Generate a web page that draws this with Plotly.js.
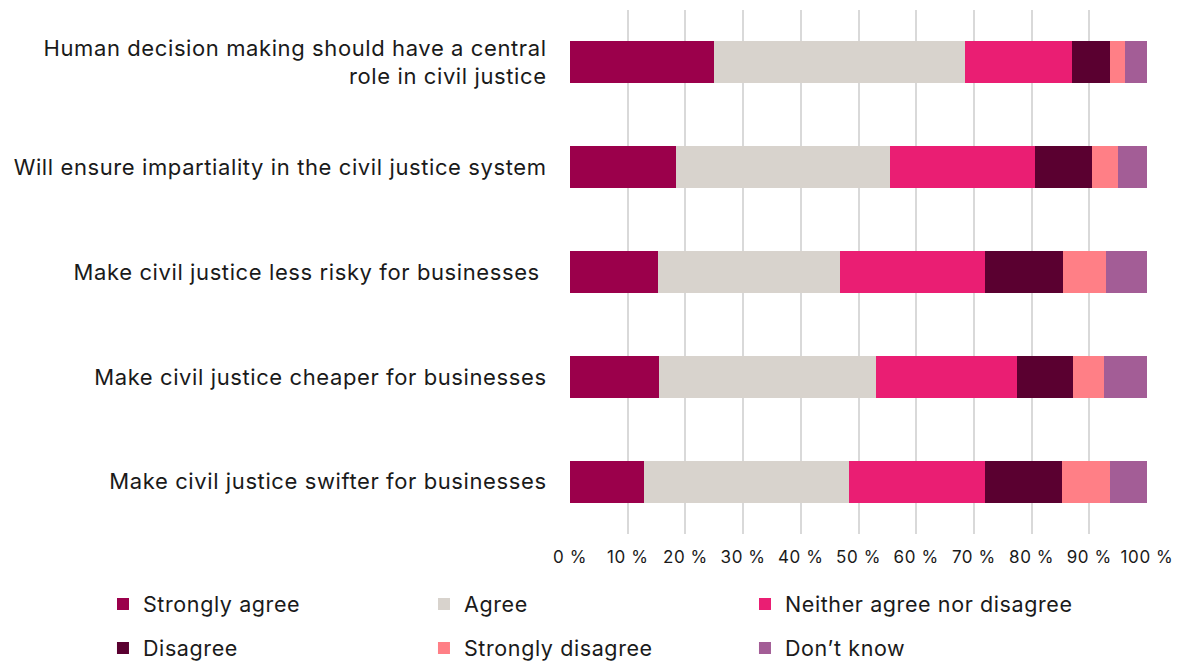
<!DOCTYPE html>
<html>
<head>
<meta charset="utf-8">
<script src="https://cdn.plot.ly/plotly-3.0.1.min.js"></script>
<style>
html,body{margin:0;padding:0;background:#fff;}
#chart{width:1181px;height:664px;}
#chart text{letter-spacing:0.6px;}
#chart .legend .scrollbox{clip-path:none !important;}
</style>
</head>
<body>
<div id="chart"></div>
<script>
const categories = [
  "Human decision making should have a central<br>role in civil justice",
  "Will ensure impartiality in the civil justice system",
  "Make civil justice less risky for businesses\u00a0",
  "Make civil justice cheaper for businesses",
  "Make civil justice swifter for businesses"
];
const seriesNames = ["Strongly agree", "Agree", "Neither agree nor disagree", "Disagree", "Strongly disagree", "Don\u2019t know"];
const stronglyAgree    = [24.9, 18.4, 15.2, 15.5, 12.9];
const agree            = [43.6, 37.0, 31.6, 37.6, 35.4];
const neither          = [18.5, 25.2, 25.1, 24.3, 23.7];
const disagree         = [6.5, 9.9, 13.6, 9.7, 13.2];
const stronglyDisagree = [2.7, 4.5, 7.4, 5.4, 8.3];
const dontKnow         = [3.8, 5.0, 7.1, 7.5, 6.5];
const tickValues = [0, 10, 20, 30, 40, 50, 60, 70, 80, 90, 100];
const tickLabels = ["0 %", "10 %", "20 %", "30 %", "40 %", "50 %", "60 %", "70 %", "80 %", "90 %", "100 %"];

const colors = ["#9B004B", "#D8D3CD", "#EA1E73", "#5A0030", "#FF7F86", "#A35D96"];
const allSeries = [stronglyAgree, agree, neither, disagree, stronglyDisagree, dontKnow];

const FONT = "Inter, 'Open Sans', sans-serif";

const traces = allSeries.map((vals, i) => ({
  type: "bar",
  orientation: "h",
  name: seriesNames[i],
  x: vals,
  y: categories,
  marker: {color: colors[i], line: {width: 0}},
  legend: i < 3 ? "legend" : "legend2",
  hoverinfo: "x+name"
}));

const legendCommon = {
  orientation: "h",
  xanchor: "left",
  yanchor: "middle",
  font: {family: FONT, size: 21.5, color: "#1a1a1a"},
  entrywidth: 276,
  entrywidthmode: "pixels",
  bgcolor: "rgba(0,0,0,0)",
  borderwidth: 0,
  traceorder: "normal"
};

const layout = {
  width: 1181,
  height: 664,
  margin: {l: 570, r: 34, t: 10, b: 130, autoexpand: false},
  paper_bgcolor: "#ffffff",
  plot_bgcolor: "#ffffff",
  barmode: "stack",
  bargap: 0.6,
  font: {family: FONT, color: "#1a1a1a"},
  xaxis: {
    range: [0, 100],
    tickvals: tickValues,
    ticktext: tickLabels,
    showgrid: true,
    gridcolor: "#d9d9d9",
    gridwidth: 1.5,
    zeroline: false,
    showline: false,
    ticks: "outside",
    ticklen: 8,
    tickcolor: "rgba(0,0,0,0)",
    tickfont: {family: FONT, size: 17, color: "#1a1a1a"},
    automargin: false,
    fixedrange: true
  },
  yaxis: {
    autorange: "reversed",
    showgrid: false,
    zeroline: false,
    showline: false,
    ticks: "outside",
    ticklen: 18,
    tickcolor: "rgba(0,0,0,0)",
    tickfont: {family: FONT, size: 22, color: "#1a1a1a"},
    automargin: false,
    fixedrange: true
  },
  legend: Object.assign({}, legendCommon, {x: -0.8094, y: -0.1336}),
  legend2: Object.assign({}, legendCommon, {x: -0.8094, y: -0.2176}),
  showlegend: true
};

Plotly.newPlot("chart", traces, layout, {displayModeBar: false, responsive: false});
</script>
</body>
</html>
